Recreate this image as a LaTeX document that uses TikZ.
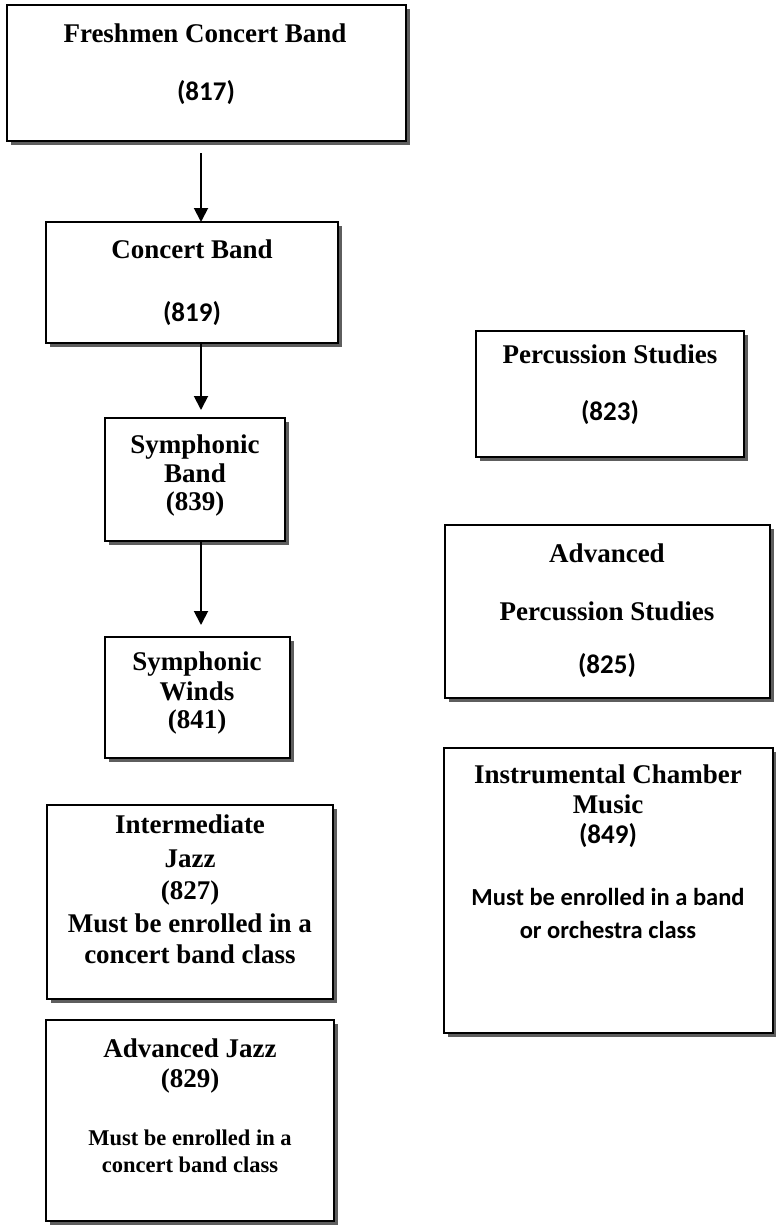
\documentclass[tikz,border=0pt]{standalone}
\usepackage{fontspec}
\setmainfont{Liberation Serif}
\newfontfamily\calibfont{Carlito}
\usetikzlibrary{arrows.meta,shadows}
\begin{document}
\begin{tikzpicture}[x=1pt,y=-1pt,
  box/.style={draw=black, line width=2.4pt, fill=white, inner sep=0pt, outer sep=0pt,
    drop shadow={shadow xshift=4pt, shadow yshift=-4pt, fill=black!70, opacity=0.9}},
  t/.style={anchor=base, inner sep=0pt, font=\fontsize{27}{32}\selectfont\bfseries},
  ts/.style={anchor=base, inner sep=0pt, font=\fontsize{22.5}{27}\selectfont\bfseries},
  c/.style={anchor=base, inner sep=0pt, font=\calibfont\fontsize{27}{32}\selectfont\bfseries},
  cs/.style={anchor=base, inner sep=0pt, font=\calibfont\fontsize{24.5}{29}\selectfont\bfseries},
  arr/.style={line width=1.9pt, -{Triangle[width=14pt,length=14pt]}}]
\useasboundingbox (0,0) rectangle (776,1226);

% boxes
\node[box, minimum width=399pt, minimum height=136pt] (b1) at (206.5,73) {};
\node[box, minimum width=292pt, minimum height=121pt] (b2) at (192,282.5) {};
\node[box, minimum width=180pt, minimum height=123pt] (b3) at (195,479.5) {};
\node[box, minimum width=185pt, minimum height=121pt] (b4) at (197.5,697.5) {};
\node[box, minimum width=286pt, minimum height=194pt] (b5) at (190,902) {};
\node[box, minimum width=288pt, minimum height=201pt] (b6) at (190,1120.5) {};
\node[box, minimum width=268pt, minimum height=126pt] (b7) at (610,394) {};
\node[box, minimum width=325pt, minimum height=173pt] (b8) at (607.5,611.5) {};
\node[box, minimum width=329pt, minimum height=285pt] (b9) at (608.5,890.5) {};

% texts
\node[t] (b1a) at (205,42) {Freshmen Concert Band};
\node[c] (b1b) at (206,100) {(817)};

\node[t] (b2a) at (192,258) {Concert Band};
\node[c] (b2b) at (192,321) {(819)};

\node[t] (b3a) at (195,453) {Symphonic};
\node[t] (b3b) at (195,482) {Band};
\node[t] (b3c) at (195,510) {(839)};

\node[t] (b4a) at (197,670) {Symphonic};
\node[t] (b4b) at (197,700) {Winds};
\node[t] (b4c) at (197,728) {(841)};

\node[t] (b5a) at (190,833) {Intermediate};
\node[t] (b5b) at (190,867) {Jazz};
\node[t] (b5c) at (190,899) {(827)};
\node[t] (b5d) at (190,932) {Must be enrolled in a};
\node[t] (b5e) at (190,963) {concert band class};

\node[t] (b6a) at (190,1057) {Advanced Jazz};
\node[t] (b6b) at (190,1087) {(829)};
\node[ts] (b6c) at (190,1145) {Must be enrolled in a};
\node[ts] (b6d) at (190,1172) {concert band class};

\node[t] (b7a) at (610,363) {Percussion Studies};
\node[c] (b7b) at (610,420) {(823)};

\node[t] (b8a) at (607,562) {Advanced};
\node[t] (b8b) at (607,620) {Percussion Studies};
\node[c] (b8c) at (607,673) {(825)};

\node[t] (b9a) at (608,783) {Instrumental Chamber};
\node[t] (b9b) at (608,813) {Music};
\node[c] (b9c) at (608,843) {(849)};
\node[cs] (b9d) at (608,905) {Must be enrolled in a band};
\node[cs] (b9e) at (608,938) {or orchestra class};

% arrows
\coordinate (ax) at (201,0);
\draw[arr, shorten <=12pt] (b1.south -| ax) -- (b2.north -| ax);
\draw[arr, shorten >=8pt] (b2.south -| ax) -- (b3.north -| ax);
\draw[arr, shorten >=12pt] (b3.south -| ax) -- (b4.north -| ax);
\end{tikzpicture}
\end{document}
